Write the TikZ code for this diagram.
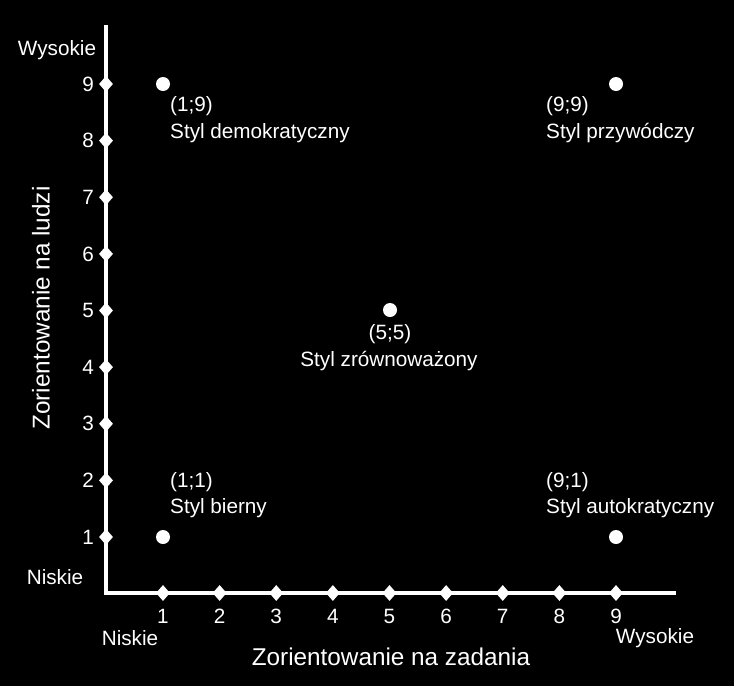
\documentclass[tikz,border=0pt]{standalone}
\usepackage{fontspec}
\setmainfont{Liberation Sans}
\usetikzlibrary{shapes.geometric}
\begin{document}
\begin{tikzpicture}[x=1pt,y=-1pt,
  every node/.style={text=white,font=\fontsize{20.7}{24}\selectfont,inner sep=0pt},
  big/.style={font=\fontsize{24.3}{28}\selectfont},
  axis/.style={draw=white,line width=4pt},
  tick/.style={diamond,fill=white,minimum width=14pt,minimum height=16pt,inner sep=0pt},
  pt/.style={circle,fill=white,minimum size=14pt,inner sep=0pt},
  lbl/.style={anchor=west}]
\fill[black] (0,0) rectangle (734,686);
\useasboundingbox (0,0) rectangle (734,686);
\coordinate (O) at (106,593);
\coordinate (Ytop) at (106,25);
\coordinate (Xend) at (676,593);
\draw[axis] (Ytop) -- (O) -- (Xend);
\foreach \i in {1,...,9}{
  \pgfmathsetmacro{\p}{163+(\i-1)*56.625}
  \pgfmathsetmacro{\q}{537-(\i-1)*56.625}
  \node[tick] (xt\i) at (\p,593) {};
  \node[tick] (yt\i) at (106,\q) {};
  \node (xl\i) at (\p,616) {\i};
  \node[anchor=east] (yl\i) at (94,\q) {\i};
}
\node (wys1) at (57,50) {Wysokie};
\node (nis1) at (55,577) {Niskie};
\node (nis2) at (130,638) {Niskie};
\node (wys2) at (655,638) {Wysokie};
\node[big] (xtitle) at (391,657) {Zorientowanie na zadania};
\node[big,rotate=90] (ytitle) at (41,308) {Zorientowanie na ludzi};
\node[pt] (p19) at (163,84) {};
\node[pt] (p99) at (616,84) {};
\node[pt] (p55) at (390,310) {};
\node[pt] (p11) at (163,537) {};
\node[pt] (p91) at (616,537) {};
\node[lbl] (c19) at (170,106) {(1;9)};
\node[lbl] (s19) at (170,133) {Styl demokratyczny};
\node[lbl] (c99) at (546,106) {(9;9)};
\node[lbl] (s99) at (546,133) {Styl przywódczy};
\node (c55) at (390,334) {(5;5)};
\node (s55) at (389,361) {Styl zrównoważony};
\node[lbl] (c11) at (170,482) {(1;1)};
\node[lbl] (s11) at (170,508) {Styl bierny};
\node[lbl] (c91) at (546,482) {(9;1)};
\node[lbl] (s91) at (546,508) {Styl autokratyczny};
\end{tikzpicture}
\end{document}
